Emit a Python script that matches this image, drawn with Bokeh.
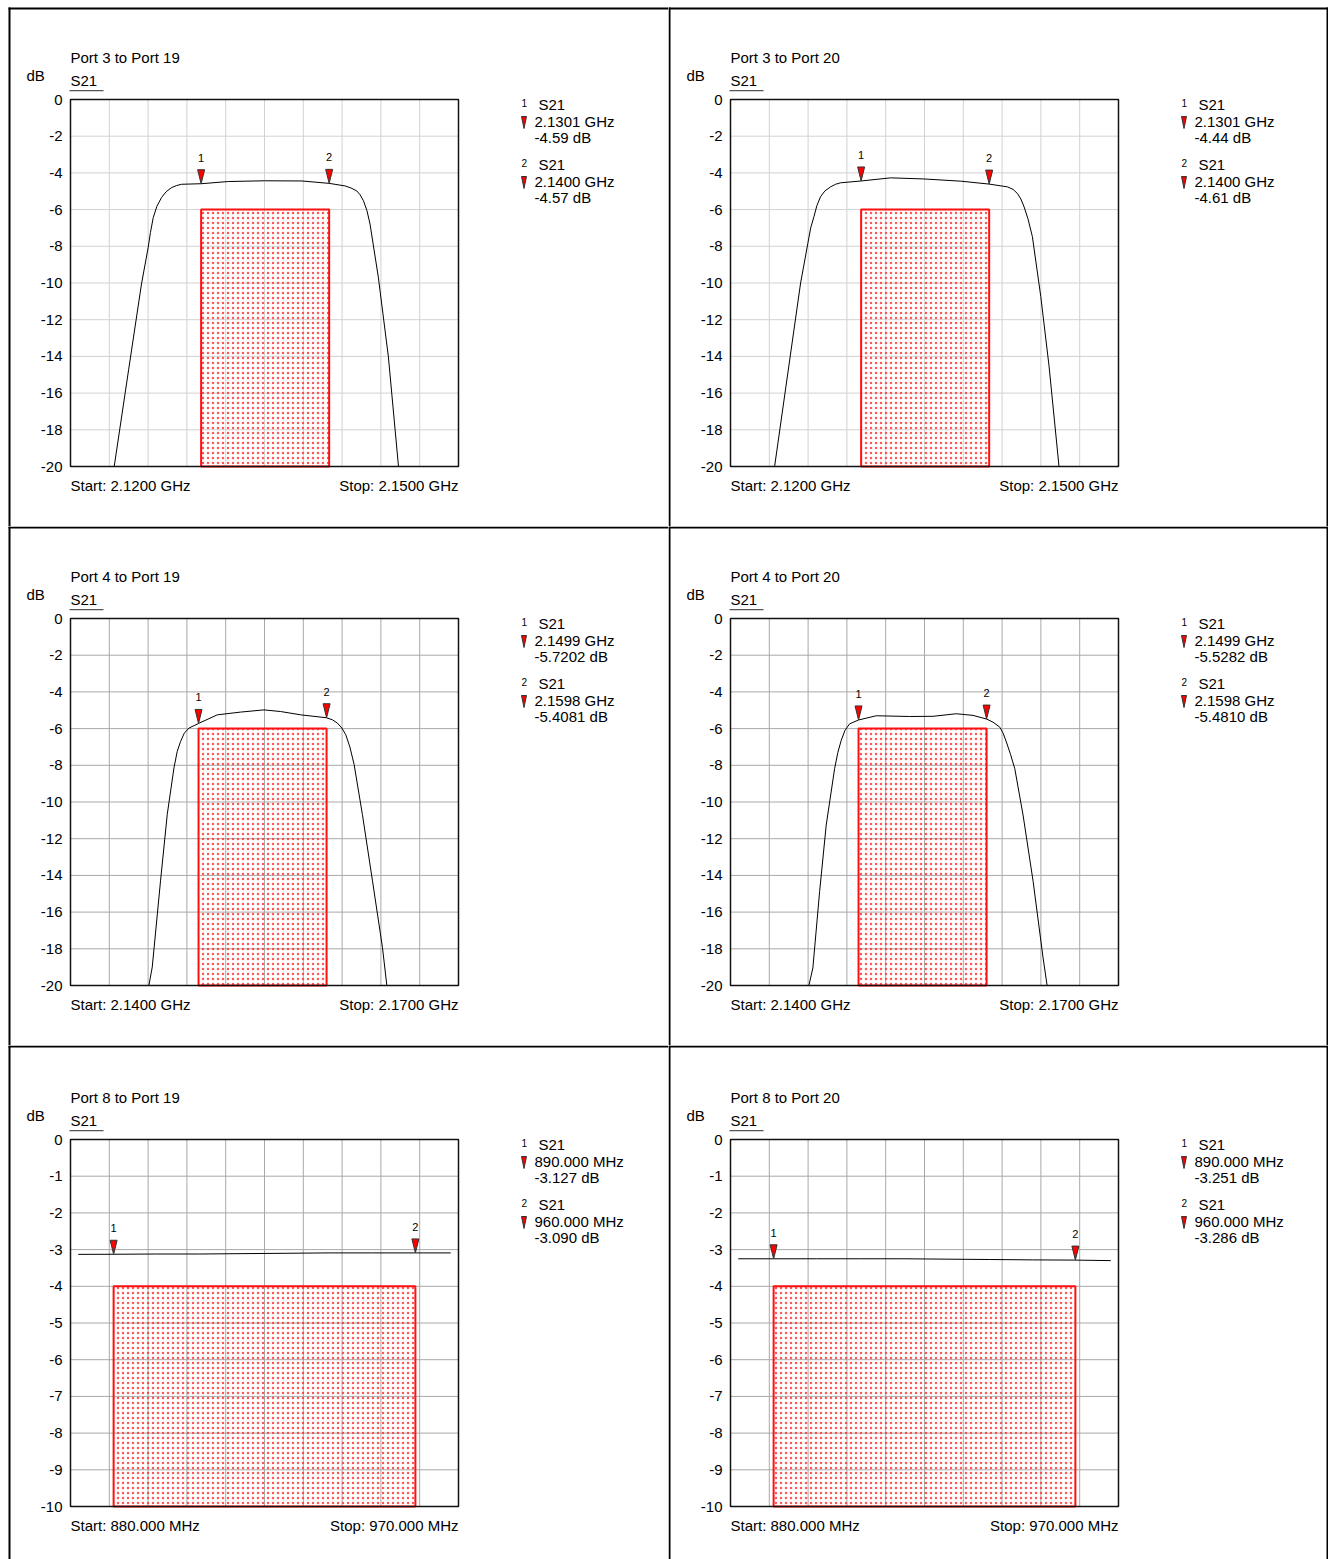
from bokeh.plotting import figure
from bokeh.models import Range1d
from bokeh.layouts import row, column
from bokeh.embed import file_html
from bokeh.resources import INLINE
from bokeh.core.properties import value

FONT = "Liberation Sans"
TXT = "15px"

# ---------------- data ----------------
titles = ["Port 3 to Port 19", "Port 3 to Port 20", "Port 4 to Port 19",
          "Port 4 to Port 20", "Port 8 to Port 19", "Port 8 to Port 20"]
trace_name = "S21"
y_unit = "dB"
x_start = [2.12, 2.12, 2.14, 2.14, 880.0, 880.0]
x_stop = [2.15, 2.15, 2.17, 2.17, 970.0, 970.0]
start_text = ["Start: 2.1200 GHz", "Start: 2.1200 GHz", "Start: 2.1400 GHz",
              "Start: 2.1400 GHz", "Start: 880.000 MHz", "Start: 880.000 MHz"]
stop_text = ["Stop: 2.1500 GHz", "Stop: 2.1500 GHz", "Stop: 2.1700 GHz",
             "Stop: 2.1700 GHz", "Stop: 970.000 MHz", "Stop: 970.000 MHz"]
y_min = [-20, -20, -20, -20, -10, -10]
y_step = [2, 2, 2, 2, 1, 1]
mask_top = [-6, -6, -6, -6, -4, -4]

m1_x = [2.1301, 2.1301, 2.1499, 2.1499, 890.0, 890.0]
m1_y = [-4.59, -4.44, -5.7202, -5.5282, -3.127, -3.251]
m2_x = [2.1400, 2.1400, 2.1598, 2.1598, 960.0, 960.0]
m2_y = [-4.57, -4.61, -5.4081, -5.4810, -3.090, -3.286]
m1_x_text = ["2.1301 GHz", "2.1301 GHz", "2.1499 GHz", "2.1499 GHz", "890.000 MHz", "890.000 MHz"]
m1_y_text = ["-4.59 dB", "-4.44 dB", "-5.7202 dB", "-5.5282 dB", "-3.127 dB", "-3.251 dB"]
m2_x_text = ["2.1400 GHz", "2.1400 GHz", "2.1598 GHz", "2.1598 GHz", "960.000 MHz", "960.000 MHz"]
m2_y_text = ["-4.57 dB", "-4.61 dB", "-5.4081 dB", "-5.4810 dB", "-3.090 dB", "-3.286 dB"]

p1_freq = [2.1200, 2.12338, 2.1245, 2.12549, 2.12601, 2.12618, 2.1264, 2.12668, 2.12704,
           2.1274, 2.12782, 2.1282, 2.12859, 2.1301, 2.1322, 2.1350, 2.1379, 2.1400,
           2.14123, 2.14168, 2.14213, 2.1424, 2.14265, 2.14292, 2.14316, 2.1438,
           2.14458, 2.14536, 2.1500]
p1_db = [-20, -20, -14.7, -10.05, -8.05, -7.25, -6.43, -5.82, -5.34,
         -5.02, -4.80, -4.69, -4.62, -4.59, -4.47, -4.43, -4.44, -4.57,
         -4.71, -4.82, -4.98, -5.2, -5.52, -6.05, -6.79, -9.68,
         -14.03, -20, -20]

p2_freq = [2.1200, 2.12341, 2.12542, 2.12598, 2.1262, 2.12645, 2.12668, 2.12696, 2.1273,
           2.12774, 2.12812, 2.12851, 2.1301, 2.13238, 2.13496, 2.1378, 2.1400, 2.14141,
           2.14185, 2.14218, 2.14245, 2.1427, 2.143, 2.14334, 2.14399, 2.14463, 2.1454, 2.1500]
p2_db = [-20, -20, -10.0, -7.84, -7.0, -6.39, -5.78, -5.30, -4.98,
         -4.76, -4.62, -4.54, -4.44, -4.27, -4.33, -4.45, -4.61, -4.76,
         -4.9, -5.12, -5.42, -5.85, -6.5, -7.47, -10.73, -14.53, -20, -20]

p3_freq = [2.1400, 2.14606, 2.14632, 2.14696, 2.14748, 2.1480, 2.14825, 2.14851, 2.1488,
           2.14916, 2.1499, 2.15135, 2.15316, 2.15496, 2.15625, 2.1578, 2.1598, 2.16025,
           2.16064, 2.16098, 2.16128, 2.1616, 2.16193, 2.16257, 2.16335, 2.16412, 2.16446,
           2.1700]
p3_db = [-20, -20, -19.0, -14.3, -10.68, -8.14, -7.25, -6.70, -6.25,
         -5.97, -5.72, -5.25, -5.10, -4.98, -5.07, -5.25, -5.41, -5.52,
         -5.70, -5.97, -6.33, -7.0, -7.96, -10.68, -14.3, -17.92, -20,
         -20]

p4_freq = [2.1400, 2.14606, 2.14637, 2.14689, 2.1474, 2.14805, 2.1483, 2.14856, 2.14885,
           2.14921, 2.1499, 2.15127, 2.15385, 2.15566, 2.15746, 2.15875, 2.1598, 2.1603,
           2.16082, 2.16108, 2.16133, 2.16165, 2.16198, 2.16262, 2.1634, 2.16417, 2.16448,
           2.1700]
p4_db = [-20, -20, -19.04, -14.88, -11.26, -8.18, -7.3, -6.64, -6.1,
         -5.74, -5.53, -5.30, -5.34, -5.33, -5.19, -5.28, -5.48, -5.65,
         -5.92, -6.25, -6.73, -7.4, -8.18, -10.71, -14.33, -18.5, -20,
         -20]

p5_freq = [881.8, 890.0, 900.0, 910.0, 920.0, 930.0, 940.0, 950.0, 960.0, 968.2]
p5_db = [-3.13, -3.127, -3.12, -3.12, -3.11, -3.10, -3.09, -3.09, -3.090, -3.09]

p6_freq = [881.8, 890.0, 900.0, 910.0, 920.0, 930.0, 940.0, 950.0, 960.0, 968.2]
p6_db = [-3.25, -3.251, -3.25, -3.25, -3.25, -3.26, -3.27, -3.28, -3.286, -3.30]

curves_freq = [p1_freq, p2_freq, p3_freq, p4_freq, p5_freq, p6_freq]
curves_db = [p1_db, p2_db, p3_db, p4_db, p5_db, p6_db]

# ---------------- layout (pixels) ----------------
FW, FH = 388, 367                 # plot box size
col_w = [668, 660]
col_box_left = [70, 62]
col_edge = [8, 0]
row_h = [526, 519, 514]
row_box_top = [99, 92, 94]
row_edge = [7, 0, 0]
grid_col = ["#d2d2d2", "#a8a8a8", "#a8a8a8"]


def make_panel(i):
    r, c = divmod(i, 2)
    x0, x1 = x_start[i], x_stop[i]
    y0, y1 = y_min[i], 0
    W, H = col_w[c], row_h[r]
    bl, bt = col_box_left[c], row_box_top[r]
    dx = (x1 - x0) / FW
    dy = (y1 - y0) / FH

    # panel pixel position -> data position (x right, y down)
    def X(cx):
        return x0 + (cx - bl) * dx

    def Y(cy):
        return y1 + (bt - cy) * dy

    p = figure(frame_width=W, frame_height=H, min_border=0,
               min_border_left=0, min_border_right=0, min_border_top=0, min_border_bottom=0,
               x_range=Range1d(X(0), X(W)), y_range=Range1d(Y(H), Y(0)),
               output_backend="svg", toolbar_location=None)
    p.axis.visible = False
    p.grid.visible = False
    p.outline_line_color = None
    p.background_fill_color = "white"
    p.border_fill_color = "white"

    xt = [x0 + k * (x1 - x0) / 10 for k in range(11)]
    yt = list(range(y0, 1, y_step[i]))
    tick_labels = [str(v) for v in yt]

    # grid
    p.segment(x0=xt, y0=[y0] * len(xt), x1=xt, y1=[y1] * len(xt),
              line_color=grid_col[r], line_width=1)
    p.segment(x0=[x0] * len(yt), y0=yt, x1=[x1] * len(yt), y1=yt,
              line_color=grid_col[r], line_width=1)

    # mask rectangle
    p.quad(left=[m1_x[i]], right=[m2_x[i]], bottom=[y0], top=[mask_top[i]],
           fill_color=None, hatch_pattern="dot", hatch_color="#ff2a2a",
           hatch_alpha=0.8, hatch_scale=5, line_color="#ff1010", line_width=2)

    # trace
    p.line(curves_freq[i], curves_db[i], line_color="black", line_width=1)

    # plot box
    p.quad(left=[x0], right=[x1], bottom=[y0], top=[y1], fill_color=None,
           line_color="#111111", line_width=1.5)

    # markers on the trace
    mx = [m1_x[i], m2_x[i]]
    my = [m1_y[i], m2_y[i]]
    p.patches(xs=[[x - 3.5 * dx, x + 3.5 * dx, x] for x in mx],
              ys=[[y + 14 * dy, y + 14 * dy, y] for y in my],
              fill_color="#ff0000", line_color="#333333", line_width=1)
    p.text(x=mx, y=[y + 26 * dy for y in my], text=["1", "2"],
           text_align="center", text_baseline="middle",
           text_font=value(FONT), text_font_size="11px", text_color="black")

    def txt(xs, ys, texts, size=TXT, align="left"):
        p.text(x=xs, y=ys, text=texts, text_align=align, text_baseline="middle",
               text_font=value(FONT), text_font_size=size, text_color="black")

    # y tick labels
    txt([X(bl - 8)] * len(yt), yt, tick_labels, align="right")

    # header
    txt([X(bl)], [Y(bt - 42.5)], [titles[i]])
    txt([X(bl - 44)], [Y(bt - 24)], [y_unit])
    txt([X(bl)], [Y(bt - 19.5)], [trace_name])
    p.quad(left=[X(bl - 1)], right=[X(bl + 33)], top=[Y(bt - 9.6)], bottom=[Y(bt - 8.2)],
           fill_color="#555555", line_color=None)

    # footer
    txt([X(bl)], [Y(bt + FH + 18.5)], [start_text[i]])
    txt([X(bl + FW)], [Y(bt + FH + 18.5)], [stop_text[i]], align="right")

    # marker readout
    xtxt = [m1_x_text[i], m2_x_text[i]]
    ytxt = [m1_y_text[i], m2_y_text[i]]
    xr = bl + FW
    for k in range(2):
        off = bt + 60 * k
        txt([X(xr + 63)], [Y(off + 3.2)], [str(k + 1)], size="10px")
        txt([X(xr + 80)], [Y(off + 4.5)], [trace_name])
        txt([X(xr + 76)], [Y(off + 21.5)], [xtxt[k]])
        txt([X(xr + 76)], [Y(off + 38)], [ytxt[k]])
        p.patch(x=[X(xr + 63), X(xr + 68), X(xr + 65.5)],
                y=[Y(off + 17), Y(off + 17), Y(off + 29)],
                fill_color="#ff0000", line_color="#333333", line_width=1)

    # panel borders
    le, te = col_edge[c], row_edge[r]
    p.quad(left=[X(le)], right=[X(le + 2)], top=[Y(te)], bottom=[Y(H)],
           fill_color="black", line_color=None)
    p.quad(left=[X(le)], right=[X(W)], top=[Y(te)], bottom=[Y(te + 2)],
           fill_color="black", line_color=None)
    if c == 1:
        p.quad(left=[X(W - 2)], right=[X(W)], top=[Y(te)], bottom=[Y(H)],
               fill_color="black", line_color=None)
    return p


panels = [make_panel(i) for i in range(6)]
layout = column(row(panels[0], panels[1]), row(panels[2], panels[3]), row(panels[4], panels[5]))

open("out.html", "w").write(file_html(layout, INLINE))
